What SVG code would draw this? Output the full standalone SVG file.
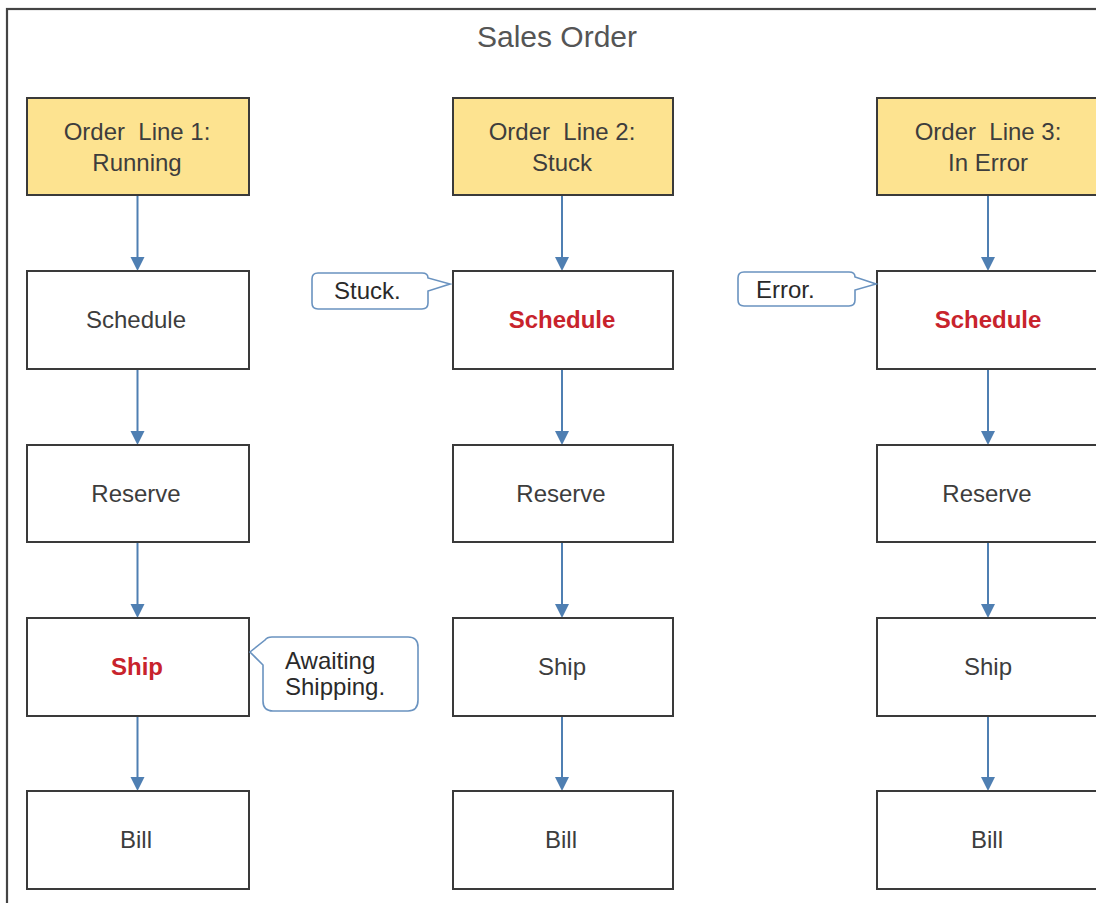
<svg xmlns="http://www.w3.org/2000/svg" width="1096" height="903" viewBox="0 0 1096 903">
<style>
.frame{fill:none;stroke:#444444;stroke-width:2.2}
.box{fill:#ffffff;stroke:#3a3a3a;stroke-width:2}
.head{fill:#fde390;stroke:#3a3a3a;stroke-width:2}
.t{font-family:"Liberation Sans",Arial,sans-serif;font-size:24px;fill:#3d3d3d;text-anchor:middle}
.pre{white-space:pre}
.red{font-weight:bold;fill:#c8232c}
.title{font-family:"Liberation Sans",Arial,sans-serif;font-size:30px;fill:#555555;text-anchor:middle}
.conn{stroke:#4f7fb2;stroke-width:2;fill:none}
.call{fill:#ffffff;stroke:#6a93c0;stroke-width:1.6}
.ct{font-family:"Liberation Sans",Arial,sans-serif;font-size:24px;fill:#2a2a2a}
</style>
<rect width="1096" height="903" fill="#ffffff"/>
<rect class="frame" x="7" y="9" width="1200" height="1000"/>
<text class="title" x="557" y="47">Sales Order</text>

<g id="connectors">
<path class="conn" d="M137.5,195 V258"/>
<path class="conn" d="M137.5,369 V432"/>
<path class="conn" d="M137.5,542 V605"/>
<path class="conn" d="M137.5,716 V778"/>
<path class="conn" d="M562,195 V258"/>
<path class="conn" d="M562,369 V432"/>
<path class="conn" d="M562,542 V605"/>
<path class="conn" d="M562,716 V778"/>
<path class="conn" d="M988,195 V258"/>
<path class="conn" d="M988,369 V432"/>
<path class="conn" d="M988,542 V605"/>
<path class="conn" d="M988,716 V778"/>
<g fill="#4f7fb2">
<path d="M130.5,257 H144.5 L137.5,271 Z"/>
<path d="M130.5,431 H144.5 L137.5,445 Z"/>
<path d="M130.5,604 H144.5 L137.5,618 Z"/>
<path d="M130.5,777 H144.5 L137.5,791 Z"/>
<path d="M555,257 H569 L562,271 Z"/>
<path d="M555,431 H569 L562,445 Z"/>
<path d="M555,604 H569 L562,618 Z"/>
<path d="M555,777 H569 L562,791 Z"/>
<path d="M981,257 H995 L988,271 Z"/>
<path d="M981,431 H995 L988,445 Z"/>
<path d="M981,604 H995 L988,618 Z"/>
<path d="M981,777 H995 L988,791 Z"/>
</g>
</g>

<g id="line1">
<rect class="head" x="27" y="98" width="222" height="97"/>
<text class="t pre" x="137" y="140">Order  Line 1:</text>
<text class="t" x="137" y="171">Running</text>
</g>
<g id="schedule1"><rect class="box" x="27" y="271" width="222" height="98"/><text class="t" x="136" y="328">Schedule</text></g>
<g id="reserve1"><rect class="box" x="27" y="445" width="222" height="97"/><text class="t" x="136" y="502">Reserve</text></g>
<g id="ship1"><rect class="box" x="27" y="618" width="222" height="98"/><text class="t red" x="137" y="675">Ship</text></g>
<g id="bill1"><rect class="box" x="27" y="791" width="222" height="98"/><text class="t" x="136" y="848">Bill</text></g>

<g id="line2">
<rect class="head" x="453" y="98" width="220" height="97"/>
<text class="t pre" x="562" y="140">Order  Line 2:</text>
<text class="t" x="562" y="171">Stuck</text>
</g>
<g id="schedule2"><rect class="box" x="453" y="271" width="220" height="98"/><text class="t red" x="562" y="328">Schedule</text></g>
<g id="reserve2"><rect class="box" x="453" y="445" width="220" height="97"/><text class="t" x="561" y="502">Reserve</text></g>
<g id="ship2"><rect class="box" x="453" y="618" width="220" height="98"/><text class="t" x="562" y="675">Ship</text></g>
<g id="bill2"><rect class="box" x="453" y="791" width="220" height="98"/><text class="t" x="561" y="848">Bill</text></g>

<g id="line3">
<rect class="head" x="877" y="98" width="222" height="97"/>
<text class="t pre" x="988" y="140">Order  Line 3:</text>
<text class="t" x="988" y="171">In Error</text>
</g>
<g id="schedule3"><rect class="box" x="877" y="271" width="222" height="98"/><text class="t red" x="988" y="328">Schedule</text></g>
<g id="reserve3"><rect class="box" x="877" y="445" width="222" height="97"/><text class="t" x="987" y="502">Reserve</text></g>
<g id="ship3"><rect class="box" x="877" y="618" width="222" height="98"/><text class="t" x="988" y="675">Ship</text></g>
<g id="bill3"><rect class="box" x="877" y="791" width="222" height="98"/><text class="t" x="987" y="848">Bill</text></g>

<g id="callout-stuck">
<path class="call" d="M318,273 H422 Q428,273 428,278 L450,284 L428,291 V303 Q428,309 422,309 H318 Q312,309 312,303 V279 Q312,273 318,273 Z"/>
<text class="ct" x="334" y="299">Stuck.</text>
</g>
<g id="callout-error">
<path class="call" d="M744,272 H849 Q855,272 855,277 L876,284 L855,290 V300 Q855,306 849,306 H744 Q738,306 738,300 V278 Q738,272 744,272 Z"/>
<text class="ct" x="756" y="298">Error.</text>
</g>
<g id="callout-awaiting">
<path class="call" d="M272,637 H408 Q418,637 418,647 V700 Q418,711 408,711 H273 Q263,711 263,701 V665 L250,652 L265,640 Q267,637 272,637 Z"/>
<text class="ct" x="285" y="669">Awaiting</text>
<text class="ct" x="285" y="695">Shipping.</text>
</g>
</svg>
